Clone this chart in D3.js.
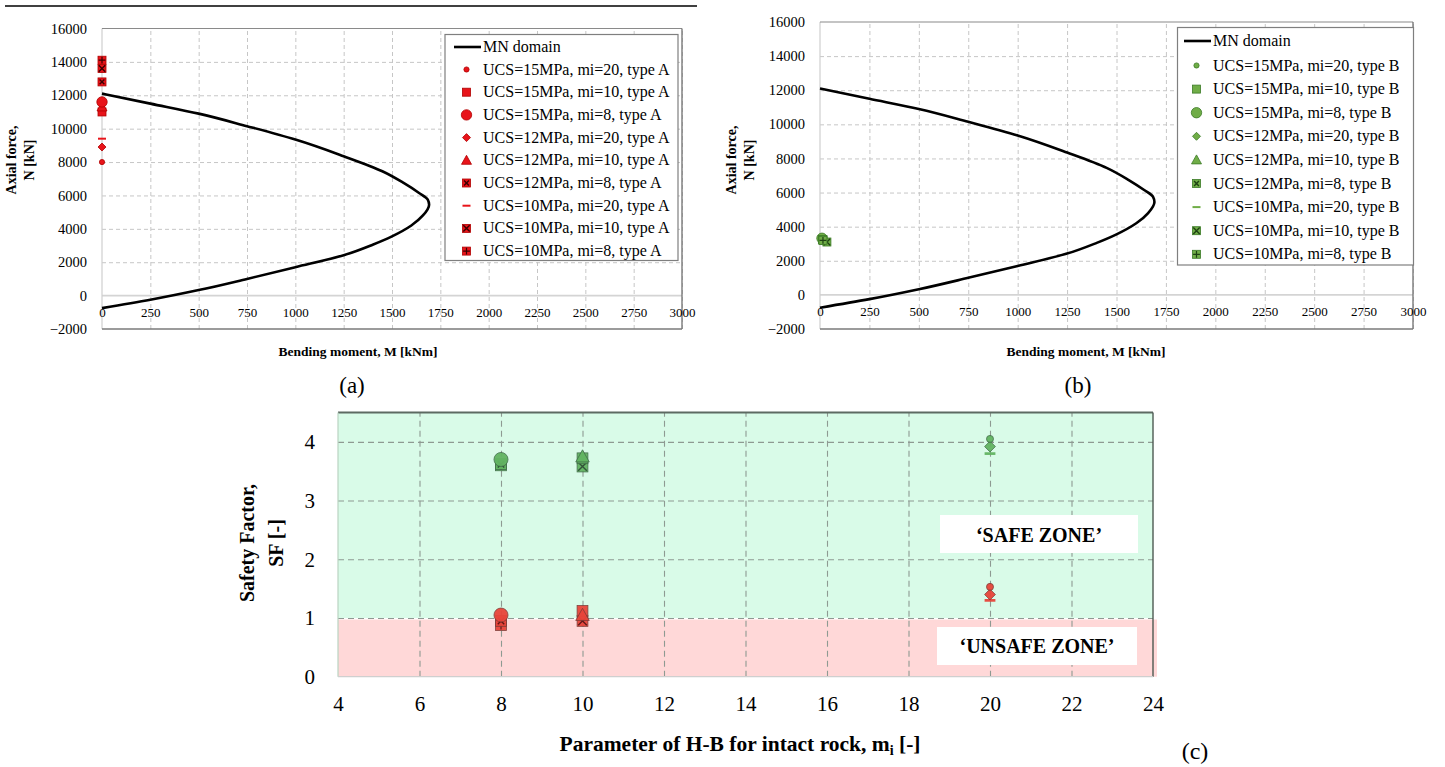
<!DOCTYPE html>
<html><head><meta charset="utf-8">
<script src="https://cdn.jsdelivr.net/npm/d3@7"></script>
<style>
body{margin:0;background:#fff}
svg{display:block}
text{font-family:"Liberation Serif","Times New Roman",serif;fill:#000}
</style></head><body>
<svg id="fig" width="1445" height="767"></svg>
<script>
// ---------- data ----------
const mnM = [0, 250, 500, 750, 1000, 1250, 1400, 1500, 1600, 1660, 1692, 1685, 1640, 1560, 1450, 1250, 1000, 750, 500, 250, 0];
const mnN = [-750, -250, 330, 1000, 1700, 2420, 3050, 3550, 4200, 4800, 5450, 5750, 6150, 6750, 7450, 8350, 9350, 10150, 10900, 11500, 12100];
const seriesUCS = [15, 15, 15, 12, 12, 12, 10, 10, 10];
const seriesMi = [20, 10, 8, 20, 10, 8, 20, 10, 8];
const seriesShape = ["dot", "square", "circle", "diamond", "triangle", "xsquare", "dash", "xsquare2", "plussquare"];
const typeA_M = [0, 0, 0, 0, 0, 0, 0, 0, 0];
const typeA_N = [8000, 11000, 11600, 8900, 11300, 12800, 9400, 13600, 14100];
const typeB_M = [30, 15, 10, 25, 20, 12, 22, 35, 15];
const typeB_N = [3100, 3250, 3320, 3150, 3200, 3250, 3250, 3100, 3200];
const sfTypeA = [1.53, 1.12, 1.05, 1.40, 1.05, 0.95, 1.30, 0.95, 0.88];
const sfTypeB = [4.05, 3.72, 3.70, 3.92, 3.75, 3.62, 3.80, 3.58, 3.60];
const xTicksMN = [0, 250, 500, 750, 1000, 1250, 1500, 1750, 2000, 2250, 2500, 2750, 3000];
const yTicksMN = [-2000, 0, 2000, 4000, 6000, 8000, 10000, 12000, 14000, 16000];
const xTicksSF = [4, 6, 8, 10, 12, 14, 16, 18, 20, 22, 24];
const yTicksSF = [0, 1, 2, 3, 4];

const svg = d3.select("#fig");

// ---------- marker helper ----------
function marker(g, shape, x, y, fill, stroke, inner, s) {
  const m = g.append("g").attr("transform", `translate(${x},${y})`);
  if (shape === "dot") {
    m.append("circle").attr("r", 2.6 * s).attr("fill", fill).attr("stroke", stroke).attr("stroke-width", 0.8);
  } else if (shape === "circle") {
    m.append("circle").attr("r", 5.2 * s).attr("fill", fill).attr("stroke", stroke).attr("stroke-width", 0.8);
  } else if (shape === "square" || shape === "xsquare" || shape === "xsquare2" || shape === "plussquare") {
    const h = 4 * s;
    m.append("rect").attr("x", -h).attr("y", -h).attr("width", 2 * h).attr("height", 2 * h)
      .attr("fill", fill).attr("stroke", stroke).attr("stroke-width", 0.8);
    if (shape === "xsquare" || shape === "xsquare2") {
      const k = h * (shape === "xsquare" ? 0.6 : 0.8);
      m.append("path").attr("d", `M${-k},${-k}L${k},${k}M${-k},${k}L${k},${-k}`)
        .attr("stroke", inner).attr("stroke-width", 1.4);
    }
    if (shape === "plussquare") {
      const k = h * 0.85;
      m.append("path").attr("d", `M${-k},0L${k},0M0,${-k}L0,${k}`)
        .attr("stroke", inner).attr("stroke-width", 1.2);
    }
  } else if (shape === "diamond") {
    const h = 4 * s;
    m.append("path").attr("d", `M0,${-h}L${h},0L0,${h}L${-h},0Z`).attr("fill", fill).attr("stroke", stroke).attr("stroke-width", 0.8);
  } else if (shape === "triangle") {
    const h = 5 * s;
    m.append("path").attr("d", `M0,${-h}L${h},${h * 0.8}L${-h},${h * 0.8}Z`).attr("fill", fill).attr("stroke", stroke).attr("stroke-width", 0.8);
  } else if (shape === "dash") {
    m.append("line").attr("x1", -4 * s).attr("x2", 4 * s).attr("stroke", fill).attr("stroke-width", 2 * s);
  }
  return m;
}

// ---------- MN panels ----------
function mnPanel(cfg) {
  const x = d3.scaleLinear().domain([0, 3000]).range([cfg.left, cfg.right]);
  const y = d3.scaleLinear().domain([-2000, 16000]).range([cfg.bottom, cfg.top]);
  const g = svg.append("g");

  // grid
  g.append("g").attr("transform", `translate(0,${cfg.bottom})`)
    .call(d3.axisBottom(x).tickValues(xTicksMN.slice(1)).tickSize(-(cfg.bottom - cfg.top)).tickFormat(""))
    .call(a => a.select(".domain").remove())
    .call(a => a.selectAll("line").attr("stroke", "#c6c6c6").attr("stroke-dasharray", "4,3"));
  g.append("g").attr("transform", `translate(${cfg.left},0)`)
    .call(d3.axisLeft(y).tickValues(yTicksMN.filter(v => v !== 0 && v !== -2000 && v !== 16000)).tickSize(-(cfg.right - cfg.left)).tickFormat(""))
    .call(a => a.select(".domain").remove())
    .call(a => a.selectAll("line").attr("stroke", "#c6c6c6").attr("stroke-dasharray", "4,3"));
  // zero line
  g.append("line").attr("x1", cfg.left).attr("x2", cfg.right).attr("y1", y(0)).attr("y2", y(0))
    .attr("stroke", "#d4d4d4").attr("stroke-width", 1.6);
  // frame
  g.append("line").attr("x1", cfg.left).attr("x2", cfg.left).attr("y1", cfg.top).attr("y2", cfg.bottom).attr("stroke", "#cfcfcf").attr("stroke-width", 1.2);
  g.append("line").attr("x1", cfg.left).attr("x2", cfg.right).attr("y1", cfg.top).attr("y2", cfg.top).attr("stroke", "#8a8a8a").attr("stroke-width", 1.2);
  g.append("line").attr("x1", cfg.left).attr("x2", cfg.right).attr("y1", cfg.bottom).attr("y2", cfg.bottom).attr("stroke", "#7a7a7a").attr("stroke-width", 1.4);
  g.append("line").attr("x1", cfg.right).attr("x2", cfg.right).attr("y1", cfg.top).attr("y2", cfg.bottom).attr("stroke", "#7a7a7a").attr("stroke-width", 1.4);

  // tick labels via axes
  g.append("g").attr("transform", `translate(${cfg.left - 12},0)`)
    .call(d3.axisLeft(y).tickValues(yTicksMN).tickSize(0).tickFormat(d3.format("d")))
    .call(a => a.select(".domain").remove())
    .call(a => a.selectAll("text").attr("font-size", 14.5).attr("fill", "#111")
      .style("font-family", "'Liberation Serif',serif"));
  g.append("g").attr("transform", `translate(0,${y(0) + 9})`)
    .call(d3.axisBottom(x).tickValues(xTicksMN).tickSize(0).tickFormat(d3.format("d")))
    .call(a => a.select(".domain").remove())
    .call(a => a.selectAll("text").attr("font-size", 13).attr("fill", "#111")
      .style("font-family", "'Liberation Serif',serif"));

  // MN curve
  const pts = mnM.map((m, i) => [m, mnN[i]]);
  g.append("path").datum(pts)
    .attr("d", d3.line().x(d => x(d[0])).y(d => y(d[1])).curve(d3.curveMonotoneY))
    .attr("fill", "none").attr("stroke", "#000").attr("stroke-width", 2.6);

  // data markers
  const order = [6, 0, 3, 1, 4, 2, 5, 7, 8];
  order.forEach(i => {
    marker(g, seriesShape[i], x(cfg.M[i]), y(cfg.N[i]), cfg.fill, cfg.stroke, cfg.inner, 1);
  });

  // axis titles
  g.append("text").attr("x", cfg.xTitleX).attr("y", 356).attr("text-anchor", "middle")
    .attr("font-size", 13.5).attr("font-weight", "bold").text("Bending moment, M [kNm]");
  const yt = g.append("g").attr("transform", `translate(${cfg.yTitleX},160) rotate(-90)`);
  yt.append("text").attr("text-anchor", "middle").attr("y", 0).attr("font-size", 14).attr("font-weight", "bold").text("Axial force,");
  yt.append("text").attr("text-anchor", "middle").attr("y", 18).attr("font-size", 14).attr("font-weight", "bold").text("N [kN]");

  // panel label
  g.append("text").attr("x", cfg.labelX).attr("y", 393).attr("text-anchor", "middle").attr("font-size", 23).text(cfg.label);

  // legend
  const L = cfg.legend;
  g.append("rect").attr("x", L.x).attr("y", L.y).attr("width", L.w).attr("height", L.h)
    .attr("fill", "#fff").attr("stroke", "#7f7f7f").attr("stroke-width", 1.2);
  g.append("line").attr("x1", L.lineX1).attr("x2", L.lineX2).attr("y1", L.row0).attr("y2", L.row0)
    .attr("stroke", "#000").attr("stroke-width", 2.6);
  g.append("text").attr("x", L.textX).attr("y", L.row0 + 5).attr("font-size", 16).text("MN domain");
  seriesUCS.forEach((u, i) => {
    const ry = L.row1 + i * L.step;
    marker(g, seriesShape[i], L.markX, ry, cfg.fill, cfg.stroke, cfg.inner, 1);
    g.append("text").attr("x", L.textX).attr("y", ry + 5).attr("font-size", 16)
      .text(`UCS=${u}MPa, mi=${seriesMi[i]}, type ${cfg.type}`);
  });
}

// separator line above panel (a)
svg.append("line").attr("x1", 5).attr("x2", 697).attr("y1", 6).attr("y2", 6).attr("stroke", "#000").attr("stroke-width", 1.3);

mnPanel({
  left: 102, right: 682, top: 28.5, bottom: 329,
  M: typeA_M, N: typeA_N, fill: "#e8141a", stroke: "#b00000", inner: "#3a0000", type: "A",
  xTitleX: 358, yTitleX: 16, labelX: 352, label: "(a)",
  legend: { x: 445, y: 34.5, w: 233, h: 226, lineX1: 454, lineX2: 481, row0: 47, row1: 69.5, step: 22.7, markX: 466.5, textX: 483 }
});
mnPanel({
  left: 820, right: 1413, top: 22, bottom: 329,
  M: typeB_M, N: typeB_N, fill: "#70ad47", stroke: "#3b7a26", inner: "#1e4212", type: "B",
  xTitleX: 1086, yTitleX: 736, labelX: 1078, label: "(b)",
  legend: { x: 1177.5, y: 27.5, w: 236, h: 237.5, lineX1: 1184, lineX2: 1211, row0: 41, row1: 65.5, step: 23.6, markX: 1196.5, textX: 1213 }
});

// ---------- panel (c) ----------
(function () {
  const left = 338, right = 1153, top = 412.5, bottom = 676.7;
  const x = d3.scaleLinear().domain([4, 24]).range([left, right]);
  const y = d3.scaleLinear().domain([0, 4.5]).range([bottom, top]);
  const g = svg.append("g");

  g.append("rect").attr("x", left).attr("y", top).attr("width", right - left).attr("height", y(1) - top).attr("fill", "#d9fbe8");
  g.append("rect").attr("x", left).attr("y", y(1) + 1.5).attr("width", right - left + 4).attr("height", bottom - y(1) - 1.5).attr("fill", "#ffd8d8");

  // grid
  g.append("g").attr("transform", `translate(0,${bottom})`)
    .call(d3.axisBottom(x).tickValues(xTicksSF.slice(1, -1)).tickSize(-(bottom - top)).tickFormat(""))
    .call(a => a.select(".domain").remove())
    .call(a => a.selectAll("line").attr("stroke", "#8e9a92").attr("stroke-dasharray", "6,4").attr("stroke-width", 1.1));
  g.append("g").attr("transform", `translate(${left},0)`)
    .call(d3.axisLeft(y).tickValues(yTicksSF.slice(1)).tickSize(-(right - left)).tickFormat(""))
    .call(a => a.select(".domain").remove())
    .call(a => a.selectAll("line").attr("stroke", "#8e9a92").attr("stroke-dasharray", "6,4").attr("stroke-width", 1.1));

  // frame
  g.append("line").attr("x1", left).attr("x2", right).attr("y1", top).attr("y2", top).attr("stroke", "#5d6a62").attr("stroke-width", 2);
  g.append("line").attr("x1", right).attr("x2", right).attr("y1", top).attr("y2", bottom).attr("stroke", "#4d5a52").attr("stroke-width", 1.4);
  g.append("line").attr("x1", left).attr("x2", left).attr("y1", top).attr("y2", bottom).attr("stroke", "#b9d4c2").attr("stroke-width", 1.2);
  g.append("line").attr("x1", left).attr("x2", right).attr("y1", bottom).attr("y2", bottom).attr("stroke", "#cfcfcf").attr("stroke-width", 1.2);

  // zone boxes
  g.append("rect").attr("x", 940).attr("y", 515).attr("width", 198).attr("height", 38).attr("fill", "#fff");
  g.append("text").attr("x", 1039).attr("y", 541.5).attr("text-anchor", "middle").attr("font-size", 20).attr("font-weight", "bold").text("‘SAFE ZONE’");
  g.append("rect").attr("x", 937).attr("y", 627).attr("width", 200).attr("height", 38).attr("fill", "#fff");
  g.append("text").attr("x", 1037).attr("y", 653).attr("text-anchor", "middle").attr("font-size", 20).attr("font-weight", "bold").text("‘UNSAFE ZONE’");

  // ticks
  g.append("g").attr("transform", `translate(${left - 20},0)`)
    .call(d3.axisLeft(y).tickValues(yTicksSF).tickSize(0).tickFormat(d3.format("d")))
    .call(a => a.select(".domain").remove())
    .call(a => a.selectAll("text").attr("font-size", 21).attr("fill", "#222").style("font-family", "'Liberation Serif',serif"));
  g.append("g").attr("transform", `translate(0,${bottom + 16})`)
    .call(d3.axisBottom(x).tickValues(xTicksSF).tickSize(0).tickFormat(d3.format("d")))
    .call(a => a.select(".domain").remove())
    .call(a => a.selectAll("text").attr("font-size", 21).attr("fill", "#222").style("font-family", "'Liberation Serif',serif"));

  // markers
  const order = [8, 5, 7, 1, 4, 2, 6, 3, 0];
  order.forEach(i => {
    marker(g, seriesShape[i], x(seriesMi[i]), y(sfTypeB[i]), "#62b462", "#3f6b47", "#2a4a30", 1.35).attr("opacity", 0.95);
  });
  order.forEach(i => {
    marker(g, seriesShape[i], x(seriesMi[i]), y(sfTypeA[i]), "#e8453a", "#7a3a35", "#5a1010", 1.35).attr("opacity", 0.95);
  });

  // titles
  const xt = g.append("text").attr("x", 740).attr("y", 751).attr("text-anchor", "middle").attr("font-size", 21.5).attr("font-weight", "bold");
  xt.append("tspan").text("Parameter of H-B for intact rock, m");
  xt.append("tspan").attr("font-size", 14).attr("dy", 4).text("i");
  xt.append("tspan").attr("dy", -4).text(" [-]");
  const yt = g.append("g").attr("transform", `translate(254,543) rotate(-90)`);
  yt.append("text").attr("text-anchor", "middle").attr("y", 0).attr("font-size", 20).attr("font-weight", "bold").text("Safety Factor,");
  yt.append("text").attr("text-anchor", "middle").attr("y", 29).attr("font-size", 20).attr("font-weight", "bold").text("SF [-]");

  g.append("text").attr("x", 1195).attr("y", 759).attr("text-anchor", "middle").attr("font-size", 24).text("(c)");
})();
</script>
</body></html>
